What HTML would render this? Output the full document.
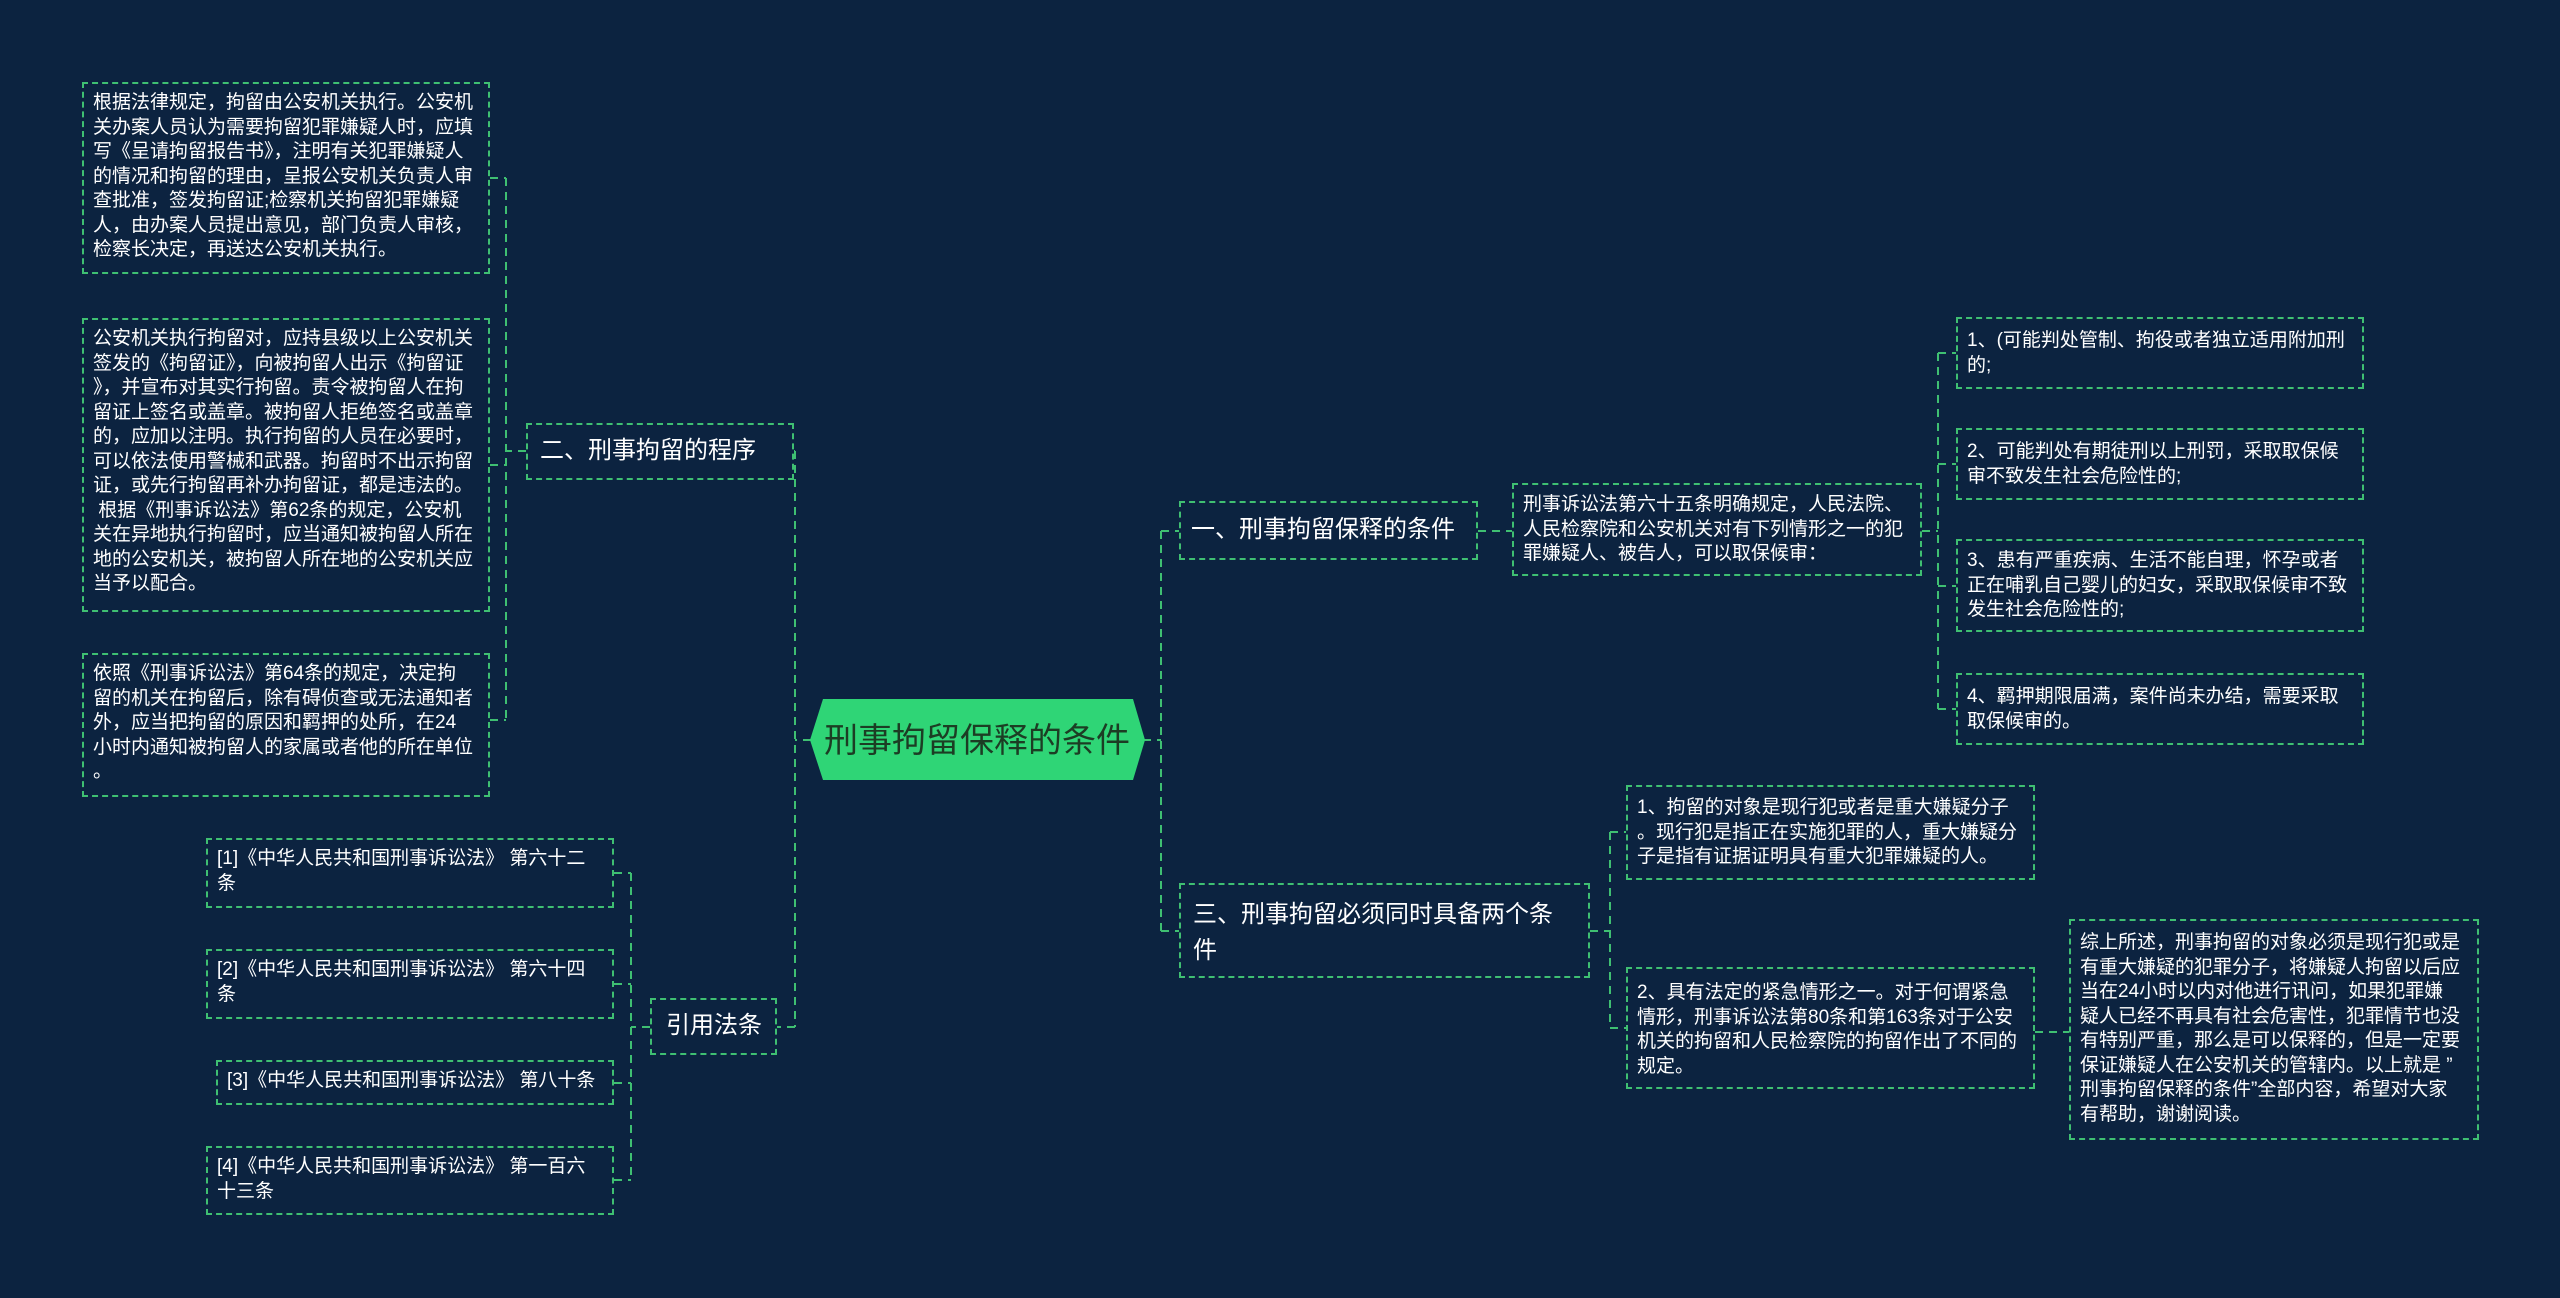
<!DOCTYPE html>
<html><head><meta charset="utf-8"><style>
html,body{margin:0;padding:0;}
body{width:2560px;height:1298px;background:#0c2340;position:relative;overflow:hidden;font-family:"Liberation Sans","Noto Sans CJK SC",sans-serif;}
.b{position:absolute;box-sizing:border-box;border:2px dashed #3fbf72;color:#fff;}
.l{font-size:19px;line-height:24.5px;padding:7px 9px;}
.m{font-size:24px;line-height:34px;padding:10px 12px;}
.n{white-space:nowrap;}
svg{position:absolute;left:0;top:0;}
</style></head><body>
<svg width="2560" height="1298">
<g stroke="#3fbf72" stroke-width="2" stroke-dasharray="8,6" fill="none">
<path d="M811 740 H795 M795 451 V1027 M795 451 H794 M795 1027 H777"/>
<path d="M526 451 H506 M506 178 V720 M490 178 H506 M490 465 H506 M490 720 H506"/>
<path d="M650 1027 H631 M631 873 V1180 M614 873 H631 M614 984 H631 M614 1083 H631 M614 1180 H631"/>
<path d="M1143 740 H1161 M1161 531 V931 M1161 531 H1179 M1161 931 H1179"/>
<path d="M1478 531 H1512"/>
<path d="M1922 531 H1938 M1938 353 V709 M1938 353 H1956 M1938 464 H1956 M1938 586 H1956 M1938 709 H1956"/>
<path d="M1590 931 H1610 M1610 832 V1028 M1610 832 H1626 M1610 1028 H1626"/>
<path d="M2035 1032 H2069"/>
</g>
<polygon points="810,740 823,699 1133,699 1145,740 1133,780 823,780" fill="#2fd576"/>
<text x="977" y="752" text-anchor="middle" font-size="34" fill="#1c3d24" font-family="Liberation Sans, Noto Sans CJK SC, sans-serif">刑事拘留保释的条件</text>
</svg>

<div class="b l" style="left:82px;top:82px;width:408px;height:192px;">根据法律规定，拘留由公安机关执行。公安机<br>关办案人员认为需要拘留犯罪嫌疑人时，应填<br>写《呈请拘留报告书》，注明有关犯罪嫌疑人<br>的情况和拘留的理由，呈报公安机关负责人审<br>查批准，签发拘留证;检察机关拘留犯罪嫌疑<br>人，由办案人员提出意见，部门负责人审核，<br>检察长决定，再送达公安机关执行。</div>
<div class="b l" style="left:82px;top:318px;width:408px;height:294px;">公安机关执行拘留对，应持县级以上公安机关<br>签发的《拘留证》，向被拘留人出示《拘留证<br>》，并宣布对其实行拘留。责令被拘留人在拘<br>留证上签名或盖章。被拘留人拒绝签名或盖章<br>的，应加以注明。执行拘留的人员在必要时，<br>可以依法使用警械和武器。拘留时不出示拘留<br>证，或先行拘留再补办拘留证，都是违法的。<br>&nbsp;根据《刑事诉讼法》第62条的规定，公安机<br>关在异地执行拘留时，应当通知被拘留人所在<br>地的公安机关，被拘留人所在地的公安机关应<br>当予以配合。</div>
<div class="b l" style="left:82px;top:653px;width:408px;height:144px;">依照《刑事诉讼法》第64条的规定，决定拘<br>留的机关在拘留后，除有碍侦查或无法通知者<br>外，应当把拘留的原因和羁押的处所，在24<br>小时内通知被拘留人的家属或者他的所在单位<br>。</div>
<div class="b m n" style="left:526px;top:423px;width:268px;height:57px;padding:9px 12px;">二、刑事拘留的程序</div>

<div class="b l" style="left:206px;top:838px;width:408px;height:70px;">[1]《中华人民共和国刑事诉讼法》 第六十二<br>条</div>
<div class="b l" style="left:206px;top:949px;width:408px;height:70px;">[2]《中华人民共和国刑事诉讼法》 第六十四<br>条</div>
<div class="b l n" style="left:216px;top:1060px;width:398px;height:45px;">[3]《中华人民共和国刑事诉讼法》 第八十条</div>
<div class="b l" style="left:206px;top:1146px;width:408px;height:69px;">[4]《中华人民共和国刑事诉讼法》 第一百六<br>十三条</div>
<div class="b m n" style="left:650px;top:998px;width:127px;height:57px;padding:9px 14px;">引用法条</div>

<div class="b m n" style="left:1179px;top:501px;width:299px;height:59px;padding:10px 10px;">一、刑事拘留保释的条件</div>
<div class="b l" style="left:1512px;top:483px;width:410px;height:93px;padding:8px 9px;">刑事诉讼法第六十五条明确规定，人民法院、<br>人民检察院和公安机关对有下列情形之一的犯<br>罪嫌疑人、被告人，可以取保候审：</div>
<div class="b l" style="left:1956px;top:317px;width:408px;height:72px;padding:10px 9px;">1、(可能判处管制、拘役或者独立适用附加刑<br>的;</div>
<div class="b l" style="left:1956px;top:428px;width:408px;height:72px;padding:10px 9px;">2、可能判处有期徒刑以上刑罚，采取取保候<br>审不致发生社会危险性的;</div>
<div class="b l" style="left:1956px;top:539px;width:408px;height:93px;padding:8px 9px;">3、患有严重疾病、生活不能自理，怀孕或者<br>正在哺乳自己婴儿的妇女，采取取保候审不致<br>发生社会危险性的;</div>
<div class="b l" style="left:1956px;top:673px;width:408px;height:72px;padding:10px 9px;">4、羁押期限届满，案件尚未办结，需要采取<br>取保候审的。</div>

<div class="b m" style="left:1179px;top:883px;width:411px;height:95px;padding:12px 12px;line-height:36px;">三、刑事拘留必须同时具备两个条<br>件</div>
<div class="b l" style="left:1626px;top:785px;width:409px;height:95px;padding:9px 9px;">1、拘留的对象是现行犯或者是重大嫌疑分子<br>。现行犯是指正在实施犯罪的人，重大嫌疑分<br>子是指有证据证明具有重大犯罪嫌疑的人。</div>
<div class="b l" style="left:1626px;top:967px;width:409px;height:122px;padding:12px 9px;">2、具有法定的紧急情形之一。对于何谓紧急<br>情形，刑事诉讼法第80条和第163条对于公安<br>机关的拘留和人民检察院的拘留作出了不同的<br>规定。</div>
<div class="b l" style="left:2069px;top:919px;width:410px;height:221px;padding:10px 9px;">综上所述，刑事拘留的对象必须是现行犯或是<br>有重大嫌疑的犯罪分子，将嫌疑人拘留以后应<br>当在24小时以内对他进行讯问，如果犯罪嫌<br>疑人已经不再具有社会危害性，犯罪情节也没<br>有特别严重，那么是可以保释的，但是一定要<br>保证嫌疑人在公安机关的管辖内。以上就是 ”<br>刑事拘留保释的条件”全部内容，希望对大家<br>有帮助，谢谢阅读。</div>
</body></html>
